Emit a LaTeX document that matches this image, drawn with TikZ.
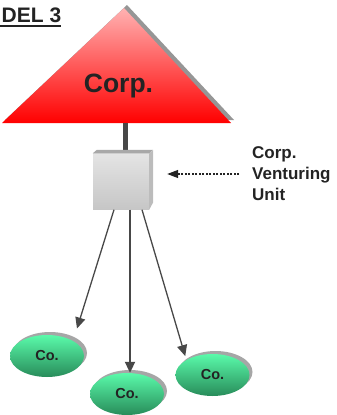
\documentclass[tikz,border=0pt]{standalone}
\usepackage{fontspec}
\setmainfont{Liberation Sans}
\usetikzlibrary{arrows.meta, shapes.geometric, shadows, calc}

\definecolor{inkgray}{RGB}{35,35,35}
\definecolor{linegray}{RGB}{72,72,72}
\definecolor{shadegray}{RGB}{150,150,150}
\definecolor{corptop}{RGB}{255,178,178}
\definecolor{corpbot}{RGB}{255,0,0}
\definecolor{cotop}{RGB}{90,250,170}
\definecolor{comid}{RGB}{72,222,148}
\definecolor{cobot}{RGB}{40,140,90}
\definecolor{boxtop}{RGB}{228,228,228}
\definecolor{boxbot}{RGB}{198,198,198}
\definecolor{boxlid}{RGB}{168,168,168}
\definecolor{boxside}{RGB}{188,188,188}

\tikzset{
  title/.style={anchor=base west, inner sep=0pt, text=inkgray, font=\bfseries\fontsize{21}{25}\selectfont},
  bigtext/.style={anchor=base, inner sep=0pt, text=inkgray, font=\bfseries\fontsize{26.5}{30}\selectfont},
  sidetext/.style={anchor=west, align=left, inner sep=0pt, text=inkgray, font=\bfseries\fontsize{17}{21}\selectfont},
  co/.style={ellipse, minimum width=74pt, minimum height=42pt, inner sep=0pt,
    top color=cotop, middle color=comid, bottom color=cobot, text=inkgray,
    drop shadow={shadow xshift=3pt, shadow yshift=3pt, fill=shadegray!85, opacity=1},
    font=\bfseries\fontsize{14.5}{16}\selectfont},
  link/.style={draw=linegray, line width=1.3pt, -{Triangle[length=11pt, width=10pt]}},
  dotarrow/.style={draw=inkgray, line width=1.3pt, dash pattern=on 2pt off 1.5pt,
    -{Triangle[length=11pt, width=8pt]}}
}

\begin{document}
\begin{tikzpicture}[x=1pt, y=-1pt]
\useasboundingbox (0,0) rectangle (337,415);

% title
\node[title] (title) at (1.5,22) {DEL 3};
\draw[inkgray, line width=2pt] (0,26) -- (61,26);

% corporation
\coordinate (apex) at (124,8);
\coordinate (corpbase) at (125.5,123);
\fill[shadegray] (127,5) -- (234,120) -- (5,120) -- cycle;
\shade[top color=corptop, bottom color=corpbot] (apex) -- (231,123) -- (2,123) -- cycle;
\node[bigtext] (corp) at (118.5,92) {Corp.};

% venturing unit
\node[minimum width=56pt, minimum height=56pt, inner sep=0pt,
  top color=boxtop, bottom color=boxbot] (cvu) at (121,181.5) {};
\draw[linegray, line width=4.5pt] (corpbase) -- (corpbase |- cvu.north);
\fill[boxlid] (cvu.north west) -- ++(4,-3.5) -- ++(56,0) -- (cvu.north east) -- cycle;
\fill[boxside] (cvu.north east) -- ++(4,-3.5) -- ++(0,52.5) -- (cvu.south east) -- cycle;

\node[sidetext] (cvutext) at (252,174) {Corp.\\Venturing\\Unit};
\draw[dotarrow, shorten <=13pt, shorten >=18pt] (cvutext.west) -- (cvutext.west -| cvu.east);

% companies
\node[co] (co1) at (47,356) {Co.};
\node[co] (co2) at (127,394) {Co.};
\node[co] (co3) at (212.5,375) {Co.};

\draw[link, shorten >=13pt] ($(cvu.south)+(-7,0)$) -- (co1.30);
\draw[link, line width=2pt] ($(cvu.south)+(9,0)$) coordinate (mid) -- (mid |- co2.north);
\draw[link, shorten >=4pt] ($(cvu.south)+(21,0)$) -- (co3.150);
\end{tikzpicture}
\end{document}
